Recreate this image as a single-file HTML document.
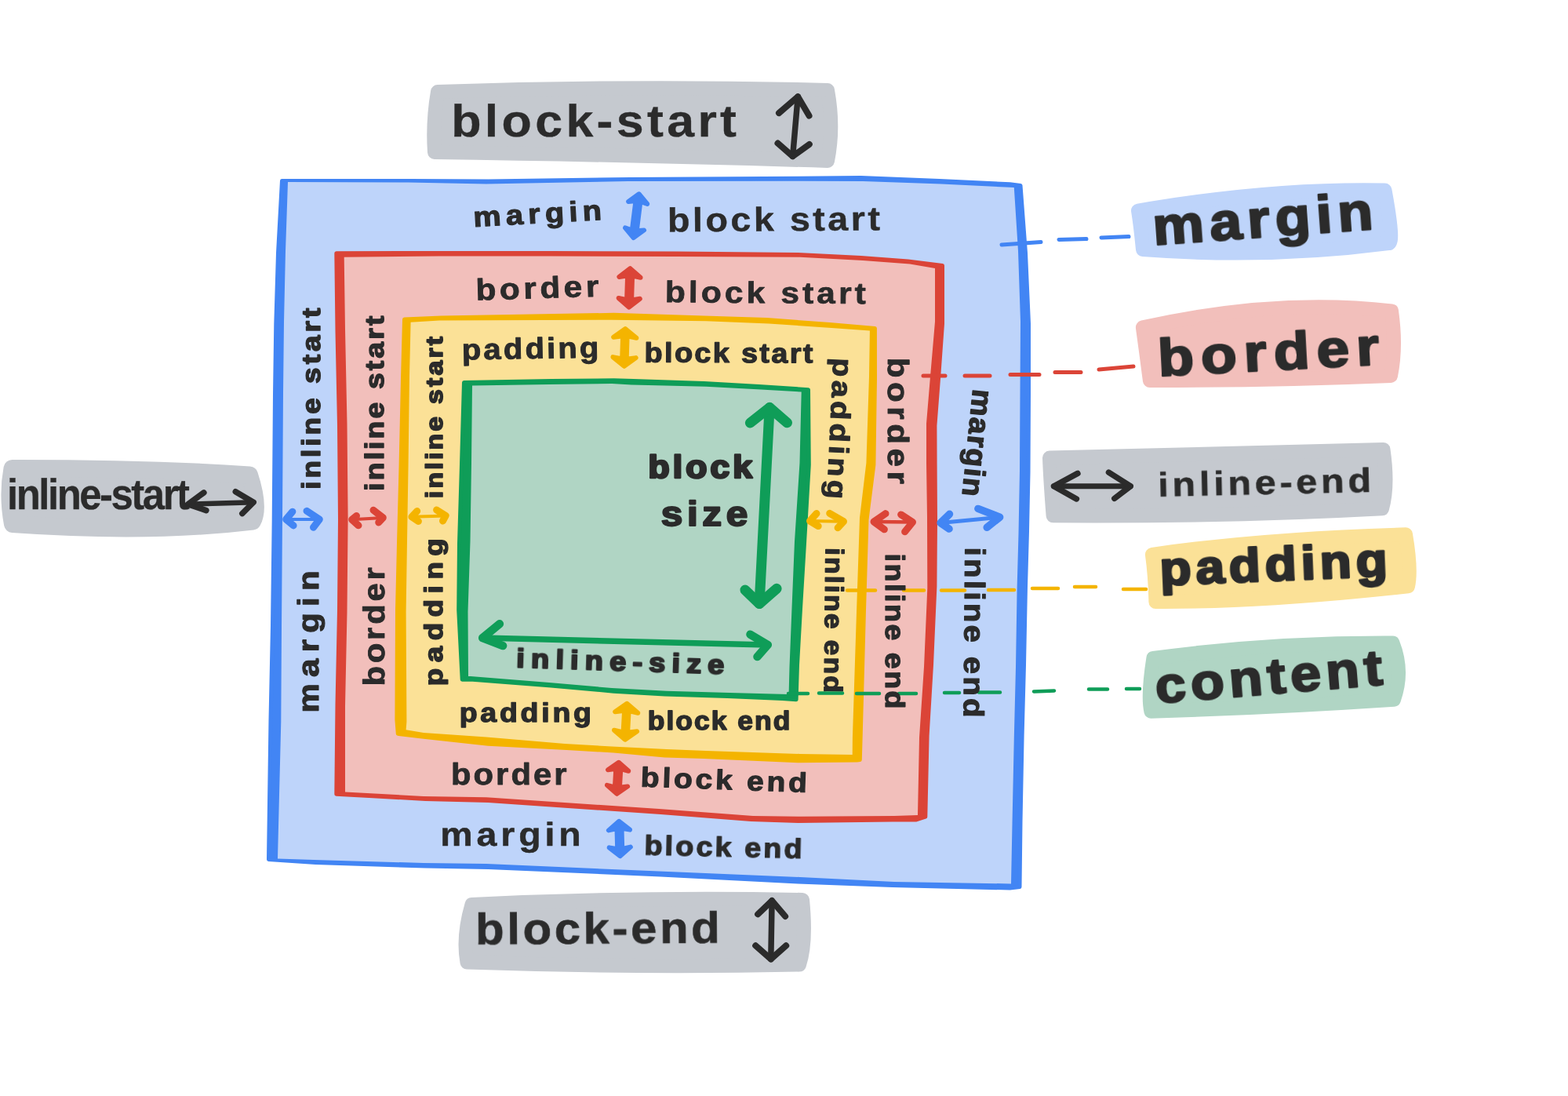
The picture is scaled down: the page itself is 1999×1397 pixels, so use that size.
<!DOCTYPE html>
<html lang="en"><head><meta charset="utf-8"><title>Logical properties box model</title>
<style>
html,body{margin:0;padding:0;background:#fff}
svg{display:block}
text{font-family:"Liberation Sans",sans-serif;font-weight:bold;fill:#2b2b2b;stroke:#2b2b2b;stroke-linejoin:round;stroke-linecap:round;text-rendering:geometricPrecision}
</style></head>
<body>
<svg width="1999" height="1397" viewBox="0 0 1999 1397">
<rect width="1999" height="1397" fill="#ffffff"/>
<path d="M558.0,117.0 Q813.5,108.4 1055.0,115.0 Q1063.6,162.0 1055.0,205.0 Q815.5,197.7 554.0,194.0 Q551.4,155.3 558.0,117.0Z" fill="#c5c9cf" stroke="#c5c9cf" stroke-width="18" stroke-linejoin="round"/>
<path d="M601.5,1153.0 Q807.8,1143.0 1023.0,1147.0 Q1028.4,1201.7 1019.0,1229.6 Q812.8,1233.9 595.5,1226.6 Q589.5,1194.2 601.5,1153.0Z" fill="#c5c9cf" stroke="#c5c9cf" stroke-width="18" stroke-linejoin="round"/>
<path d="M15.5,597.0 Q193.2,596.8 318.0,605.5 Q331.6,647.0 322.0,664.5 Q191.0,680.3 16.0,668.0 Q9.1,631.5 15.5,597.0Z" fill="#c5c9cf" stroke="#c5c9cf" stroke-width="22" stroke-linejoin="round"/>
<path d="M1338.0,583.6 Q1570.4,576.9 1763.5,573.0 Q1770.2,619.4 1762.0,648.2 Q1568.9,658.7 1342.6,657.3 Q1338.9,609.5 1338.0,583.6Z" fill="#c5c9cf" stroke="#c5c9cf" stroke-width="18" stroke-linejoin="round"/>
<path d="M1451.0,268.5 Q1621.8,239.5 1765.5,242.5 Q1778.2,311.8 1770.0,310.0 Q1616.5,330.0 1457.0,318.0 Q1454.0,286.8 1451.0,268.5Z" fill="#bed4fa" stroke="#bed4fa" stroke-width="18" stroke-linejoin="round"/>
<path d="M1456.9,417.4 Q1626.0,379.7 1774.0,396.4 Q1780.5,442.3 1773.0,479.0 Q1622.0,485.2 1465.9,485.0 Q1461.4,449.8 1456.9,417.4Z" fill="#f2bfbb" stroke="#f2bfbb" stroke-width="18" stroke-linejoin="round"/>
<path d="M1468.9,706.8 Q1611.0,686.5 1792.0,681.3 Q1799.7,726.5 1795.0,747.4 Q1607.2,767.8 1473.4,767.0 Q1472.7,733.9 1468.9,706.8Z" fill="#fbe197" stroke="#fbe197" stroke-width="18" stroke-linejoin="round"/>
<path d="M1470.4,839.0 Q1618.5,818.8 1775.5,819.5 Q1789.8,855.6 1777.0,891.7 Q1619.2,902.2 1467.4,906.7 Q1462.9,886.6 1470.4,839.0Z" fill="#b0d5c4" stroke="#b0d5c4" stroke-width="18" stroke-linejoin="round"/>
<path d="M359.5,230.5 L522.5,230.5 L622.5,231.0 L803.5,228.5 L1017.5,227.3 L1097.5,226.5 L1197.5,230.5 L1287.5,234.8 L1301.0,236.5 L1307.5,322.5 L1311.5,412.5 L1311.5,502.5 L1311.0,602.5 L1309.5,677.5 L1307.5,747.5 L1305.5,847.5 L1303.1,937.5 L1301.0,1047.5 L1300.0,1130.5 L1287.5,1132.0 L1137.5,1128.5 L1017.5,1124.0 L842.5,1115.0 L622.5,1105.5 L542.5,1104.0 L402.5,1099.5 L342.5,1095.5 L345.0,917.5 L347.5,797.5 L349.2,662.5 L350.5,502.5 L351.8,412.5 L354.5,322.5Z" fill="#4285f4" stroke="#4285f4" stroke-width="5.0" stroke-linejoin="round"/>
<path d="M367.0,232.0 L520.0,232.5 L620.0,234.5 L801.0,231.0 L1020.0,230.8 L1100.0,231.0 L1200.0,234.5 L1292.8,239.0 L1298.0,320.0 L1301.0,410.0 L1300.5,500.0 L1300.0,600.0 L1298.5,680.0 L1296.6,750.0 L1295.0,850.0 L1292.8,940.0 L1290.5,1050.0 L1289.0,1126.4 L1140.0,1124.0 L1020.0,1118.0 L840.0,1110.5 L620.0,1101.0 L540.0,1100.0 L400.0,1096.0 L354.0,1094.4 L358.3,920.0 L359.0,800.0 L360.0,660.0 L361.0,500.0 L362.0,410.0 L364.0,320.0Z" fill="#bed4fa"/>
<path d="M428.8,322.7 L562.5,322.5 L702.5,322.5 L862.5,323.0 L1017.5,324.5 L1097.5,328.5 L1157.5,333.0 L1201.5,338.5 L1201.5,412.5 L1196.5,482.5 L1191.9,542.5 L1192.1,592.5 L1192.5,662.5 L1191.9,747.5 L1187.5,847.5 L1182.1,937.5 L1179.8,1041.2 L1167.5,1045.0 L1137.5,1045.0 L1017.5,1046.5 L957.5,1044.5 L842.5,1035.5 L622.5,1020.5 L542.5,1018.5 L442.5,1012.9 L428.8,1012.2 L430.0,897.5 L432.5,777.5 L433.5,662.5 L432.5,542.5 L430.0,422.5Z" fill="#db4437" stroke="#db4437" stroke-width="5.0" stroke-linejoin="round"/>
<path d="M438.7,327.8 L560.0,326.5 L700.0,326.5 L860.0,327.0 L1020.0,327.8 L1100.0,332.0 L1160.0,336.5 L1192.0,342.0 L1192.0,410.0 L1186.0,480.0 L1181.0,540.0 L1181.0,590.0 L1182.0,660.0 L1182.3,750.0 L1178.0,850.0 L1172.0,940.0 L1170.0,1039.0 L1140.0,1040.0 L1020.0,1040.7 L960.0,1040.0 L840.0,1031.0 L620.0,1016.2 L540.0,1015.0 L440.0,1009.4 L440.0,900.0 L442.5,780.0 L443.6,660.0 L442.5,540.0 L440.0,420.0Z" fill="#f2bfbb"/>
<path d="M515.5,407.0 L562.5,405.0 L782.5,401.3 L897.5,405.0 L977.5,407.5 L1057.5,413.5 L1115.4,418.5 L1115.5,482.5 L1113.9,592.5 L1105.0,662.5 L1101.5,777.5 L1097.2,937.5 L1096.3,968.5 L1092.5,969.0 L1017.5,969.8 L897.5,964.5 L847.5,963.1 L782.5,957.1 L722.5,953.5 L622.5,948.3 L542.5,939.5 L507.3,935.3 L505.9,917.5 L506.5,777.5 L508.5,692.5 L511.1,592.5 L513.5,482.5Z" fill="#f4b400" stroke="#f4b400" stroke-width="5.0" stroke-linejoin="round"/>
<path d="M523.6,410.8 L560.0,408.5 L780.0,407.8 L900.0,409.3 L980.0,412.5 L1060.0,418.0 L1108.9,421.5 L1108.0,480.0 L1104.4,590.0 L1096.0,660.0 L1092.0,780.0 L1086.9,940.0 L1086.7,961.9 L1020.0,961.0 L900.0,957.0 L850.0,955.1 L780.0,951.4 L720.0,948.0 L620.0,939.5 L540.0,934.0 L517.6,930.3 L518.4,920.0 L517.6,780.0 L519.0,690.0 L520.6,590.0 L522.0,480.0Z" fill="#fbe197"/>
<path d="M591.5,487.5 L702.5,485.5 L782.5,484.7 L807.5,485.5 L897.5,488.5 L967.5,492.5 L1030.5,496.7 L1031.3,592.5 L1025.5,692.5 L1020.4,777.5 L1016.5,847.5 L1015.1,891.7 L997.5,890.5 L927.5,887.5 L847.5,885.0 L782.5,881.2 L702.5,874.0 L602.5,866.2 L589.2,866.2 L584.7,777.5 L585.5,692.5 L588.5,592.5Z" fill="#0f9d58" stroke="#0f9d58" stroke-width="5.0" stroke-linejoin="round"/>
<path d="M602.0,491.5 L700.0,490.0 L780.0,489.0 L805.0,490.5 L900.0,492.7 L970.0,496.5 L1021.7,499.5 L1019.5,590.0 L1013.0,690.0 L1009.3,780.0 L1006.5,850.0 L1005.6,885.0 L930.0,883.0 L850.0,880.7 L780.0,877.0 L700.0,870.0 L600.0,862.0 L597.0,862.0 L596.5,780.0 L599.5,690.0 L601.0,590.0Z" fill="#b0d5c4"/>
<path d="M1277.0,312.0 L1327.0,308.5 M1350.0,305.5 L1385.0,304.5 M1404.0,303.0 L1439.0,301.5" fill="none" stroke="#4285f4" stroke-width="5" stroke-linecap="round"/>
<path d="M1177.0,479.0 L1205.0,479.0 M1230.0,479.0 L1262.0,479.0 M1288.0,477.5 L1325.0,477.5 M1345.0,474.5 L1378.0,474.5 M1401.0,471.0 L1445.0,467.0" fill="none" stroke="#db4437" stroke-width="5" stroke-linecap="round"/>
<path d="M1080.0,752.5 L1116.0,752.5 M1152.0,752.5 L1178.0,752.5 M1200.0,752.5 L1230.0,752.5 M1260.0,752.0 L1293.0,752.0 M1316.0,750.0 L1349.0,750.0 M1370.0,748.0 L1397.0,748.0 M1432.0,751.0 L1461.0,751.0" fill="none" stroke="#f4b400" stroke-width="4.5" stroke-linecap="round"/>
<path d="M1005.0,884.0 L1030.0,884.0 M1044.0,883.5 L1074.0,883.5 M1092.0,884.0 L1121.0,884.0 M1146.0,884.0 L1168.0,884.0 M1204.0,883.0 L1223.0,883.0 M1248.0,882.5 L1275.0,882.5 M1318.0,881.5 L1344.0,880.5 M1388.0,878.5 L1412.0,878.5 M1436.0,878.0 L1453.0,878.0" fill="none" stroke="#0f9d58" stroke-width="4.5" stroke-linecap="round"/>
<path d="M1017.2,123.2 L1010.6,199.3" fill="none" stroke="#2b2b2b" stroke-width="7.5" stroke-linecap="round"/>
<path d="M993.0,144.1 L1017.2,123.2 L1031.5,147.6 M991.5,182.6 L1010.6,199.3 L1031.8,183.9" fill="none" stroke="#2b2b2b" stroke-width="8" stroke-linecap="round" stroke-linejoin="round"/>
<path d="M984.1,1148.1 L982.8,1222.6" fill="none" stroke="#2b2b2b" stroke-width="7.5" stroke-linecap="round"/>
<path d="M966.1,1165.3 L984.1,1148.1 L1001.1,1168.0 M963.2,1205.3 L982.8,1222.6 L1002.2,1205.3" fill="none" stroke="#2b2b2b" stroke-width="8" stroke-linecap="round" stroke-linejoin="round"/>
<path d="M239.6,642.7 L323.2,640.2" fill="none" stroke="#2b2b2b" stroke-width="6.5" stroke-linecap="round"/>
<path d="M259.9,627.9 L239.6,642.7 L262.9,650.6 M300.3,626.7 L323.2,640.2 L308.8,654.6" fill="none" stroke="#2b2b2b" stroke-width="7.5" stroke-linecap="round" stroke-linejoin="round"/>
<path d="M1343.5,619.7 L1441.2,619.7" fill="none" stroke="#2b2b2b" stroke-width="7" stroke-linecap="round"/>
<path d="M1373.9,603.4 L1343.5,619.7 L1372.4,635.9 M1413.5,602.1 L1441.2,619.7 L1420.8,635.4" fill="none" stroke="#2b2b2b" stroke-width="7.5" stroke-linecap="round" stroke-linejoin="round"/>
<path d="M814.6,247.3 L801.2,256.9 L810.5,256.0 L805.8,293.5 L797.0,290.4 L807.6,303.0 L821.0,293.4 L811.7,294.3 L816.4,256.8 L825.2,259.9Z" fill="#4285f4" stroke="#4285f4" stroke-width="6.0" stroke-linejoin="round"/>
<path d="M803.4,342.2 L789.4,353.0 L800.1,351.3 L799.1,382.3 L788.6,380.0 L801.8,391.6 L815.8,380.8 L805.1,382.5 L806.1,351.5 L816.6,353.8Z" fill="#db4437" stroke="#db4437" stroke-width="6.0" stroke-linejoin="round"/>
<path d="M797.1,419.1 L782.2,429.8 L794.1,428.2 L793.2,457.5 L781.4,455.1 L795.7,466.8 L810.6,456.1 L798.7,457.7 L799.6,428.4 L811.4,430.8Z" fill="#f4b400" stroke="#f4b400" stroke-width="6.0" stroke-linejoin="round"/>
<path d="M799.3,896.8 L784.2,907.2 L796.1,905.8 L794.6,933.4 L782.9,930.7 L796.9,942.7 L812.0,932.3 L800.1,933.7 L801.6,906.1 L813.3,908.8Z" fill="#f4b400" stroke="#f4b400" stroke-width="6.0" stroke-linejoin="round"/>
<path d="M788.8,971.8 L775.1,981.2 L785.3,979.8 L783.9,1003.4 L773.9,1000.8 L786.4,1011.8 L800.1,1002.4 L789.9,1003.8 L791.3,980.2 L801.3,982.8Z" fill="#db4437" stroke="#db4437" stroke-width="6.0" stroke-linejoin="round"/>
<path d="M789.2,1046.8 L775.9,1058.4 L786.5,1056.1 L787.2,1082.1 L776.6,1080.4 L790.5,1091.2 L803.8,1079.6 L793.2,1081.9 L792.5,1055.9 L803.1,1057.6Z" fill="#4285f4" stroke="#4285f4" stroke-width="6.0" stroke-linejoin="round"/>
<path d="M364.7,662.0 L407.3,662.0" fill="none" stroke="#4285f4" stroke-width="4" stroke-linecap="round"/>
<path d="M372.9,652.2 L364.7,662.0 L374.1,669.9 M391.0,651.3 L407.3,662.0 L399.5,672.2" fill="none" stroke="#4285f4" stroke-width="9" stroke-linecap="round" stroke-linejoin="round"/>
<path d="M448.7,662.3 L488.3,659.9" fill="none" stroke="#db4437" stroke-width="4" stroke-linecap="round"/>
<path d="M454.5,657.6 L448.7,662.3 L457.0,669.8 M476.0,650.3 L488.3,659.9 L482.7,665.9" fill="none" stroke="#db4437" stroke-width="9" stroke-linecap="round" stroke-linejoin="round"/>
<path d="M524.9,658.8 L568.1,657.4" fill="none" stroke="#f4b400" stroke-width="4" stroke-linecap="round"/>
<path d="M531.7,651.5 L524.9,658.8 L533.4,664.4 M556.6,650.0 L568.1,657.4 L564.5,664.0" fill="none" stroke="#f4b400" stroke-width="9" stroke-linecap="round" stroke-linejoin="round"/>
<path d="M1032.5,664.1 L1075.5,664.7" fill="none" stroke="#f4b400" stroke-width="4" stroke-linecap="round"/>
<path d="M1041.0,654.6 L1032.5,664.1 L1043.2,670.6 M1057.7,654.3 L1075.5,664.7 L1068.1,672.7" fill="none" stroke="#f4b400" stroke-width="9" stroke-linecap="round" stroke-linejoin="round"/>
<path d="M1114.0,665.0 L1163.5,665.5" fill="none" stroke="#db4437" stroke-width="4.5" stroke-linecap="round"/>
<path d="M1129.0,654.6 L1114.0,665.0 L1127.4,674.8 M1148.6,655.9 L1163.5,665.5 L1153.6,677.8" fill="none" stroke="#db4437" stroke-width="9" stroke-linecap="round" stroke-linejoin="round"/>
<path d="M1199.1,666.5 L1274.6,659.2" fill="none" stroke="#4285f4" stroke-width="5" stroke-linecap="round"/>
<path d="M1210.5,655.3 L1199.1,666.5 L1210.0,674.1 M1246.9,648.4 L1274.6,659.2 L1258.2,672.3" fill="none" stroke="#4285f4" stroke-width="9.5" stroke-linecap="round" stroke-linejoin="round"/>
<path d="M981.1,519.5 L968.1,769.5" fill="none" stroke="#0f9d58" stroke-width="13" stroke-linecap="round"/>
<path d="M956.4,539.0 L981.1,519.5 L1003.5,538.8 M950.0,752.1 L968.1,769.5 L990.1,750.3" fill="none" stroke="#0f9d58" stroke-width="13" stroke-linecap="round" stroke-linejoin="round"/>
<path d="M615.2,813.1 L978.8,821.9" fill="none" stroke="#0f9d58" stroke-width="7.5" stroke-linecap="round"/>
<path d="M636.9,795.3 L615.2,813.1 L641.1,823.1 M956.5,808.7 L978.8,821.9 L965.5,837.1" fill="none" stroke="#0f9d58" stroke-width="10.5" stroke-linecap="round" stroke-linejoin="round"/>
<g opacity="0.999">
<text transform="translate(575.2,174.1) rotate(0.00) scale(1.088,1)" font-size="57.7" stroke-width="0.32" textLength="334.4" lengthAdjust="spacing">block-start</text>
<text transform="translate(604.1,288.9) rotate(-3.13) scale(1.120,1)" font-size="35.5" stroke-width="1.17" textLength="146.1" lengthAdjust="spacing">margin</text>
<text transform="translate(851.1,295.3) rotate(-0.42) scale(1.094,1)" font-size="42.8" stroke-width="0.40" textLength="247.7" lengthAdjust="spacing">block start</text>
<text transform="translate(606.9,382.6) rotate(-1.82) scale(1.110,1)" font-size="38.1" stroke-width="0.83" textLength="141.3" lengthAdjust="spacing">border</text>
<text transform="translate(847.7,385.1) rotate(0.45) scale(1.120,1)" font-size="38.1" stroke-width="0.71" textLength="228.6" lengthAdjust="spacing">block start</text>
<text transform="translate(589.0,458.5) rotate(-0.98) scale(1.078,1)" font-size="37.2" stroke-width="0.94" textLength="162.0" lengthAdjust="spacing">padding</text>
<text transform="translate(821.6,461.4) rotate(0.27) scale(1.080,1)" font-size="35.0" stroke-width="1.25" textLength="198.8" lengthAdjust="spacing">block start</text>
<text transform="translate(826.4,609.4) rotate(0.00) scale(1.094,1)" font-size="40.6" stroke-width="2.72" textLength="121.2" lengthAdjust="spacing">block</text>
<text transform="translate(842.7,669.9) rotate(0.00) scale(1.117,1)" font-size="44.4" stroke-width="2.10" textLength="99.1" lengthAdjust="spacing">size</text>
<text transform="translate(658.1,850.5) rotate(1.82) scale(1.120,1)" font-size="33.8" stroke-width="2.13" textLength="236.6" lengthAdjust="spacing">inline-size</text>
<text transform="translate(585.7,919.8) rotate(0.00) scale(1.100,1)" font-size="34.1" stroke-width="1.33" textLength="153.0" lengthAdjust="spacing">padding</text>
<text transform="translate(825.8,930.2) rotate(0.00) scale(1.064,1)" font-size="33.3" stroke-width="1.53" textLength="170.6" lengthAdjust="spacing">block end</text>
<text transform="translate(574.9,999.6) rotate(0.00) scale(1.076,1)" font-size="38.8" stroke-width="0.83" textLength="137.2" lengthAdjust="spacing">border</text>
<text transform="translate(816.6,1002.4) rotate(2.02) scale(1.109,1)" font-size="35.0" stroke-width="1.17" textLength="191.1" lengthAdjust="spacing">block end</text>
<text transform="translate(561.2,1077.8) rotate(0.00) scale(1.103,1)" font-size="42.2" stroke-width="0.47" textLength="162.8" lengthAdjust="spacing">margin</text>
<text transform="translate(821.2,1089.4) rotate(1.30) scale(1.088,1)" font-size="34.9" stroke-width="1.24" textLength="185.0" lengthAdjust="spacing">block end</text>
<text transform="translate(606.3,1203.7) rotate(-0.37) scale(1.068,1)" font-size="56.0" stroke-width="0.64" textLength="291.7" lengthAdjust="spacing">block-end</text>
<text transform="translate(9.1,649.0) rotate(0.00) scale(0.928,1)" font-size="54.9" stroke-width="0.25" textLength="250.9" lengthAdjust="spacing">inline-start</text>
<text transform="translate(1476.7,632.9) rotate(-1.26) scale(1.120,1)" font-size="43.2" stroke-width="0.57" textLength="242.5" lengthAdjust="spacing">inline-end</text>
<text transform="translate(1471.1,312.2) rotate(-4.14) scale(1.094,1)" font-size="67.4" stroke-width="2.41" textLength="257.1" lengthAdjust="spacing">margin</text>
<text transform="translate(1477.5,479.3) rotate(-3.02) scale(1.120,1)" font-size="66.8" stroke-width="2.37" textLength="251.9" lengthAdjust="spacing">border</text>
<text transform="translate(1479.4,745.9) rotate(-2.35) scale(1.091,1)" font-size="60.0" stroke-width="2.97" textLength="266.0" lengthAdjust="spacing">padding</text>
<text transform="translate(1474.5,896.4) rotate(-4.71) scale(1.094,1)" font-size="64.2" stroke-width="2.36" textLength="265.4" lengthAdjust="spacing">content</text>
<text transform="translate(405.5,908.5) rotate(-90.00) scale(1.120,1)" font-size="37.5" stroke-width="1.09" textLength="161.8" lengthAdjust="spacing">margin</text>
<text transform="translate(408.3,623.8) rotate(-90.00) scale(1.120,1)" font-size="33.0" stroke-width="1.44" textLength="206.3" lengthAdjust="spacing">inline start</text>
<text transform="translate(489.6,874.6) rotate(-90.00) scale(1.093,1)" font-size="38.3" stroke-width="0.85" textLength="138.6" lengthAdjust="spacing">border</text>
<text transform="translate(489.3,625.8) rotate(-90.00) scale(1.116,1)" font-size="33.6" stroke-width="1.37" textLength="200.0" lengthAdjust="spacing">inline start</text>
<text transform="translate(563.8,874.3) rotate(-90.00) scale(1.120,1)" font-size="32.7" stroke-width="1.48" textLength="167.9" lengthAdjust="spacing">padding</text>
<text transform="translate(563.7,635.2) rotate(-90.00) scale(1.120,1)" font-size="30.1" stroke-width="1.65" textLength="184.2" lengthAdjust="spacing">inline start</text>
<text transform="translate(1062.5,456.0) rotate(92.54) scale(1.116,1)" font-size="35.1" stroke-width="1.15" textLength="160.9" lengthAdjust="spacing">padding</text>
<text transform="translate(1052.7,698.0) rotate(90.62) scale(1.080,1)" font-size="32.6" stroke-width="1.39" textLength="171.0" lengthAdjust="spacing">inline end</text>
<text transform="translate(1132.4,455.8) rotate(90.00) scale(1.120,1)" font-size="37.6" stroke-width="0.88" textLength="143.8" lengthAdjust="spacing">border</text>
<text transform="translate(1128.7,705.5) rotate(90.00) scale(1.088,1)" font-size="34.3" stroke-width="1.33" textLength="181.9" lengthAdjust="spacing">inline end</text>
<text transform="translate(1240.6,495.2) rotate(95.81) scale(1.043,1)" font-size="37.0" stroke-width="1.37" textLength="131.3" lengthAdjust="spacing">margin</text>
<text transform="translate(1230.5,697.6) rotate(90.53) scale(1.104,1)" font-size="36.3" stroke-width="1.10" textLength="196.5" lengthAdjust="spacing">inline end</text>
</g>
</svg>
</body></html>
